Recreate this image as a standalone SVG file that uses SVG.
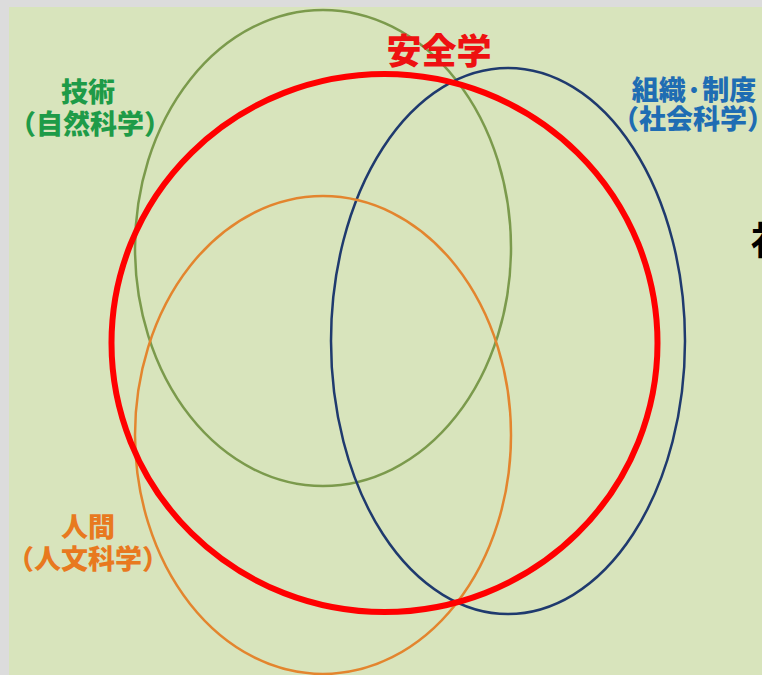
<svg xmlns="http://www.w3.org/2000/svg" width="762" height="675" viewBox="0 0 762 675">
<style>
.ring{fill:none}
.lbl{font-family:"Noto Sans CJK JP","Noto Sans CJK SC",sans-serif;font-weight:900;text-anchor:middle;font-size:27px}
</style>
<rect x="0" y="0" width="762" height="675" fill="#dcdcdc"/>
<rect x="9" y="7" width="753" height="668" fill="#d8e4bc"/>
<g id="connectors"/>
<g id="tech-circle"><ellipse class="ring" cx="323" cy="248" rx="188" ry="238" stroke="#7b9a4c" stroke-width="2.5"/></g>
<g id="org-circle"><ellipse class="ring" cx="508" cy="341" rx="177" ry="273" stroke="#1f3a6e" stroke-width="2.5"/></g>
<g id="human-circle"><ellipse class="ring" cx="323" cy="435" rx="188" ry="239" stroke="#e3852e" stroke-width="2.5"/></g>
<g id="safety-circle"><ellipse class="ring" cx="384.5" cy="343" rx="273" ry="269" stroke="#ff0000" stroke-width="6"/></g>
<g id="safety-label"><text class="lbl" x="439" y="64" style="font-size:35px" fill="#ee1111">安全学</text></g>
<g id="tech-label"><text class="lbl" x="88" y="102" fill="#1e9b48">技術</text><text class="lbl" x="90" y="134" fill="#1e9b48">（自然科学）</text></g>
<g id="org-label"><text class="lbl" x="694" y="100" fill="#1f6db3">組織·制度</text><text class="lbl" x="693" y="129" fill="#1f6db3">（社会科学）</text></g>
<g id="human-label"><text class="lbl" x="88" y="537" fill="#e8791f">人間</text><text class="lbl" x="88" y="569" fill="#e8791f">（人文科学）</text></g>
<g id="cut-text"><text x="751" y="254" font-size="38" font-weight="bold" fill="#000" font-family="&quot;Noto Sans CJK JP&quot;,sans-serif">社</text></g>
</svg>
